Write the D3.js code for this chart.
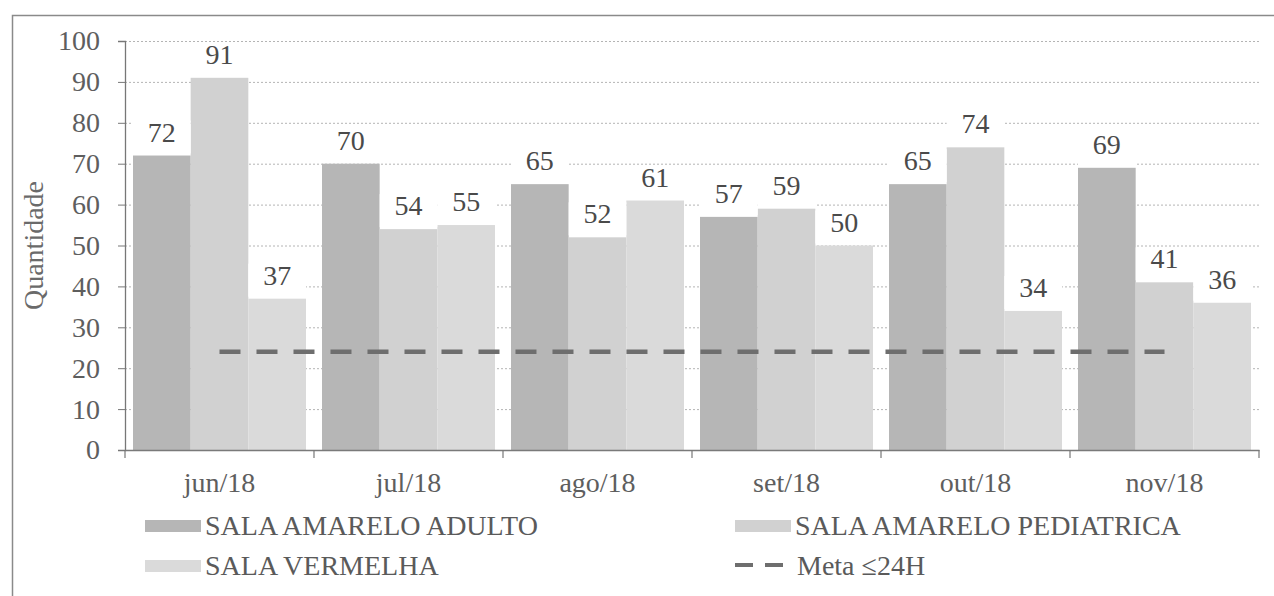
<!DOCTYPE html>
<html>
<head>
<meta charset="utf-8">
<script src="https://cdn.jsdelivr.net/npm/d3@7/dist/d3.min.js"></script>
<style>
  html, body { margin: 0; padding: 0; background: #fff; }
  svg { display: block; }
</style>
</head>
<body>
<svg id="chart" width="1274" height="596"></svg>
<script>
// ---- data ----
const categories = ["jun/18", "jul/18", "ago/18", "set/18", "out/18", "nov/18"];
const seriesNames = ["SALA AMARELO ADULTO", "SALA AMARELO PEDIATRICA", "SALA VERMELHA"];
const adulto     = [72, 70, 65, 57, 65, 69];
const pediatrica = [91, 54, 52, 59, 74, 41];
const vermelha   = [37, 55, 61, 50, 34, 36];
const metaValue  = 24;
const metaLabel  = "Meta \u226424H";
const yTicks     = [0, 10, 20, 30, 40, 50, 60, 70, 80, 90, 100];
const yTitle     = "Quantidade";

const seriesValues = [adulto, pediatrica, vermelha];
const fills = ["#b6b6b6", "#d1d1d1", "#dadada"];
const SERIF = "Liberation Serif";

// ---- layout ----
const svg = d3.select("#chart");
const plot = { left: 125, right: 1259, top: 41, bottom: 450 };

// frame
svg.append("path")
  .attr("d", "M12.5,600 L12.5,15.5 L1280,15.5")
  .attr("fill", "none").attr("stroke", "#8a8a8a").attr("stroke-width", 1.5);

const x = d3.scaleBand().domain(categories)
  .range([plot.left, plot.right]).paddingInner(0.0847).paddingOuter(0.0423);
const xs = d3.scaleBand().domain(d3.range(seriesNames.length))
  .range([0, x.bandwidth()]).padding(0);
const y = d3.scaleLinear().domain([0, 100]).range([plot.bottom, plot.top]);

// gridlines
svg.append("g").selectAll("line").data(yTicks.filter(d => d > 0)).join("line")
  .attr("x1", plot.left).attr("x2", plot.right)
  .attr("y1", d => y(d) + 0.5).attr("y2", d => y(d) + 0.5)
  .attr("stroke", "#b4b4b4").attr("stroke-width", 1)
  .attr("stroke-dasharray", "2,2");

// bars
const rows = categories.map((c, i) => ({ cat: c, vals: seriesValues.map(s => s[i]) }));
const groups = svg.append("g").selectAll("g").data(rows).join("g")
  .attr("transform", d => `translate(${x(d.cat)},0)`);
groups.selectAll("rect.bar").data(d => d.vals.map((v, k) => ({ v, k }))).join("rect")
  .attr("class", "bar")
  .attr("x", d => xs(d.k)).attr("width", xs.bandwidth())
  .attr("y", d => y(d.v)).attr("height", d => y(0) - y(d.v))
  .attr("fill", d => fills[d.k]);

// label boxes + labels
groups.selectAll("rect.lbl").data(d => d.vals.map((v, k) => ({ v, k }))).join("rect")
  .attr("class", "lbl")
  .attr("x", d => xs(d.k)).attr("width", xs.bandwidth())
  .attr("y", d => y(d.v) - 35).attr("height", 33)
  .attr("fill", "#fff");
groups.selectAll("text").data(d => d.vals.map((v, k) => ({ v, k }))).join("text")
  .attr("x", d => xs(d.k) + xs.bandwidth() / 2)
  .attr("y", d => y(d.v) - 14)
  .attr("text-anchor", "middle")
  .attr("font-family", SERIF).attr("font-size", 28)
  .attr("fill", "#4a4a4a")
  .text(d => d.v);

// meta line
const first = categories[0], last = categories[categories.length - 1];
svg.append("line")
  .attr("x1", x(first) + x.bandwidth() / 2).attr("x2", x(last) + x.bandwidth() / 2)
  .attr("y1", y(metaValue)).attr("y2", y(metaValue))
  .attr("stroke", "#6e6e6e").attr("stroke-width", 4.5)
  .attr("stroke-dasharray", "21,16");

// y axis
const yAxis = svg.append("g").attr("transform", `translate(${plot.left},0)`)
  .call(d3.axisLeft(y).tickValues(yTicks).tickSize(7).tickPadding(18));
yAxis.attr("font-family", SERIF).attr("font-size", 28);
yAxis.select(".domain").attr("stroke", "#777").attr("stroke-width", 1.3);
yAxis.selectAll(".tick line").attr("stroke", "#777");
yAxis.selectAll(".tick text").attr("fill", "#5e5e5e");

// x axis
const xAxis = svg.append("g").attr("transform", `translate(0,${plot.bottom})`)
  .call(d3.axisBottom(x).tickSize(0).tickPadding(22));
xAxis.attr("font-family", SERIF).attr("font-size", 28);
xAxis.select(".domain").attr("stroke", "#7a7a7a").attr("stroke-width", 1.3);
xAxis.selectAll(".tick text").attr("fill", "#5e5e5e");
// boundary ticks
const bounds = categories.map(c => x(c) - x.step() * x.paddingInner() / 2).concat([plot.right]);
bounds[0] = plot.left;
svg.append("g").selectAll("line").data(bounds).join("line")
  .attr("x1", d => d).attr("x2", d => d)
  .attr("y1", plot.bottom).attr("y2", plot.bottom + 8)
  .attr("stroke", "#777").attr("stroke-width", 1.2);

// y title
svg.append("text")
  .attr("transform", `translate(43,${(plot.top + plot.bottom) / 2}) rotate(-90)`)
  .attr("text-anchor", "middle")
  .attr("font-family", SERIF).attr("font-size", 28).attr("fill", "#6a6a6a")
  .text(yTitle);

// legend
const legend = [
  { type: "rect", k: 0, x: 145, y: 535 },
  { type: "rect", k: 1, x: 735, y: 535 },
  { type: "rect", k: 2, x: 145, y: 575 },
  { type: "line", x: 735, y: 575 }
];
const lg = svg.append("g").attr("font-family", SERIF).attr("font-size", 28);
legend.forEach(L => {
  if (L.type === "rect") {
    lg.append("rect").attr("x", L.x).attr("y", L.y - 15).attr("width", 56).attr("height", 12)
      .attr("fill", fills[L.k]);
    lg.append("text").attr("x", L.x + 60).attr("y", L.y)
      .attr("fill", "#5a5a5a").text(seriesNames[L.k]);
  } else {
    lg.append("line").attr("x1", L.x).attr("x2", L.x + 56)
      .attr("y1", L.y - 10).attr("y2", L.y - 10)
      .attr("stroke", "#6e6e6e").attr("stroke-width", 4)
      .attr("stroke-dasharray", "18,12");
    lg.append("text").attr("x", L.x + 62).attr("y", L.y)
      .attr("fill", "#5a5a5a").text(metaLabel);
  }
});
</script>
</body>
</html>
